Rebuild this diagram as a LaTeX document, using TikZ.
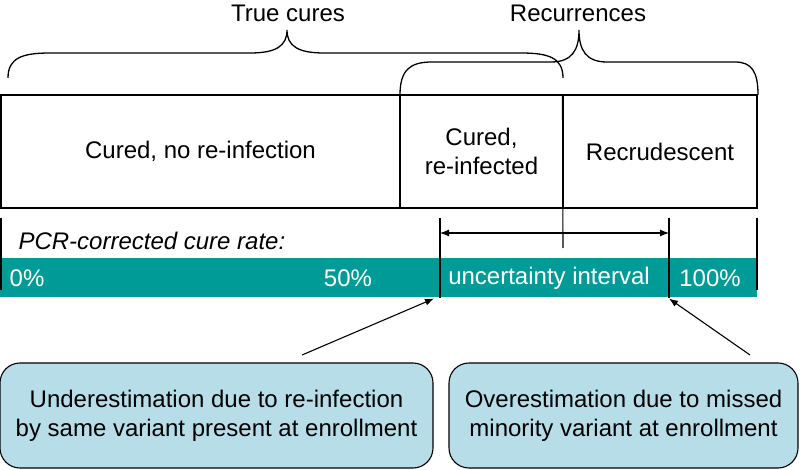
\documentclass[tikz,border=0pt]{standalone}
\usepackage{fontspec}
\setmainfont{Liberation Sans}
\usetikzlibrary{arrows.meta, positioning, calc}
\definecolor{cteal}{HTML}{009A97}
\definecolor{clight}{HTML}{B7DEE8}
\tikzset{
  every picture/.style={line width=1.1pt},
  every node/.style={font=\fontsize{24}{29}\selectfont},
  cell/.style={draw, rectangle, align=center, minimum height=113pt, inner sep=0pt},
  brace/.style={line width=1.3pt},
  tick/.style={line width=1.3pt},
  barlabel/.style={text=white, inner sep=0pt},
  callout/.style={draw, fill=clight, rounded corners=20pt, align=center, minimum height=105pt, inner sep=0pt},
  arrow/.style={-{Latex[length=9pt, width=7pt]}, line width=1.1pt},
  dblarrow/.style={{Latex[length=9pt, width=7pt]}-{Latex[length=9pt, width=7pt]}, line width=1.1pt},
}

\begin{document}
\begin{tikzpicture}[x=1pt, y=-1pt]
  \useasboundingbox (0,0) rectangle (800,470);
  % outcome cells
  \node[cell, minimum width=399pt] (noinf) at (200.5,151.5) {Cured, no re-infection};
  \node[cell, minimum width=163pt] (reinf) at (481.5,151.5) {Cured,\\re-infected};
  \node[cell, minimum width=194pt] (recr) at (660,151.5) {Recrudescent};
  % braces
  \node (true) at (288,13) {True cures};
  \node (recur) at (578,13) {Recurrences};
  \draw[brace] (8,78) .. controls (8,58) and (22,53) .. (50,53) -- (250,53)
    .. controls (276,53) and (287,46) .. (287,30) .. controls (287,46) and (298,53) .. (324,53)
    -- (521,53) .. controls (549,53) and (563,58) .. (563,78);
  \draw[brace] (400,95) .. controls (400,70) and (410,62) .. (432,62) -- (551,62)
    .. controls (572,62) and (579,50) .. (579,30) .. controls (579,50) and (586,62) .. (607,62)
    -- (735,62) .. controls (752,62) and (758,72) .. (758,95);
  % cure rate bar
  \node[anchor=west, font=\fontsize{24}{29}\selectfont\itshape, inner sep=0pt] (pcr) at (18,241) {PCR-corrected cure rate:};
  \node[fill=cteal, minimum width=757pt, minimum height=39pt, inner sep=0pt] (bar) at (378.5,277.5) {};
  \node[barlabel] (p0) at (27,278) {0\%};
  \node[barlabel] (p50) at (348,278) {50\%};
  \node[barlabel] (unc) at (549,278) {uncertainty interval};
  \node[barlabel] (p100) at (710,278) {100\%};
  \coordinate (lo) at (440,218);
  \coordinate (hi) at (669,218);
  \coordinate (left) at (1,218);
  \coordinate (right) at (757,218);
  \coordinate (mid) at (563,248);
  \draw[tick] (lo) -- (lo |- bar.south);
  \draw[tick] (hi) -- (hi |- bar.south);
  \draw[tick] (left) -- ++(0,72);
  \draw[tick] (right) -- ++(0,72);
  \draw (recr.north west) -- (mid);
  \draw[dblarrow] ($(lo)+(0,15)$) -- ($(hi)+(0,15)$);
  % explanations
  \node[callout, minimum width=433pt] (under) at (216.5,415.5) {Underestimation due to re-infection\\by same variant present at enrollment};
  \node[callout, minimum width=349pt] (over) at (623.5,415.5) {Overestimation due to missed\\minority variant at enrollment};
  \coordinate (utail) at (302,355);
  \coordinate (otail) at (750,355);
  \draw[arrow] (utail) -- ($(lo |- bar.south)+(-6,1)$);
  \draw[arrow] (otail) -- ($(hi |- bar.south)+(0,1)$);
\end{tikzpicture}
\end{document}
